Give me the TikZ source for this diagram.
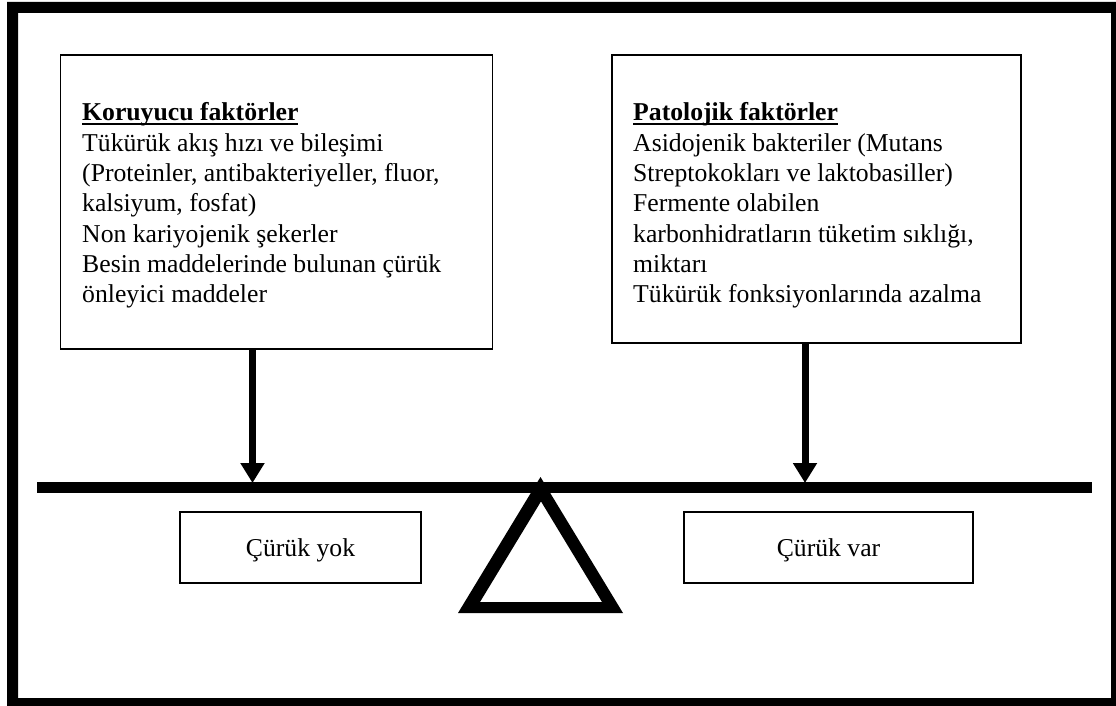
\documentclass[tikz,border=0pt]{standalone}
\usepackage{fontspec}
\setmainfont{Liberation Serif}
\usetikzlibrary{arrows.meta}
\newcommand\ulbf[1]{\leavevmode\setbox0\hbox{\textbf{#1}}\rlap{\rule[-3.8pt]{\wd0}{1.7pt}}\box0}
\tikzset{
  factorbox/.style={draw, line width=1.5pt, inner sep=0pt},
  resultbox/.style={draw, line width=1.5pt, inner sep=0pt, minimum width=241pt, minimum height=71pt,
    text height=17pt, text depth=0pt, font=\fontsize{25.7}{30}\selectfont},
  factortext/.style={anchor=base west, inner sep=0pt},
  pusharrow/.style={line width=7pt, -{Triangle[length=20pt, width=23pt]}},
}
\begin{document}
\begin{tikzpicture}[x=1pt, y=-1pt]
\useasboundingbox (0,0) rectangle (1116,706);
% outer frame
\fill[black, even odd rule] (7,2) rectangle (1130,720) (18,13) rectangle (1111,698);
% factor boxes
\node[factorbox, minimum width=432pt, minimum height=294pt] (lbox) at (276.5,202) {};
\node[factorbox, minimum width=409pt, minimum height=288pt] (rbox) at (816.5,199) {};
\node[factortext] (ltext) at (82,121) {\parbox[t]{405pt}{\raggedright\fontsize{25.7}{30.3}\selectfont
\ulbf{Koruyucu faktörler}\\
Tükürük akış hızı ve bileşimi\\
(Proteinler, antibakteriyeller, fluor,\\
kalsiyum, fosfat)\\
Non kariyojenik şekerler\\
Besin maddelerinde bulunan çürük\\
önleyici maddeler}};
\node[factortext] (rtext) at (633,121) {\parbox[t]{385pt}{\raggedright\fontsize{25.7}{30.3}\selectfont
\ulbf{Patolojik faktörler}\\
Asidojenik bakteriler (Mutans\\
Streptokokları ve laktobasiller)\\
Fermente olabilen\\
karbonhidratların tüketim sıklığı,\\
miktarı\\
Tükürük fonksiyonlarında azalma}};
% balance bar
\fill[black] (37,482) rectangle (1092,493);
\coordinate (lhit) at (252.5,483);
\coordinate (rhit) at (805,483);
\draw[pusharrow] (lhit |- lbox.south) -- (lhit);
\draw[pusharrow] (rhit |- rbox.south) -- (rhit);
% fulcrum
\fill[black, even odd rule] (458,613) -- (623,613) -- (540.5,477) -- cycle
  (480,602) -- (602,602) -- (541,501.4) -- cycle;
% result boxes
\node[resultbox] (yok) at (300.5,547.5) {Çürük yok};
\node[resultbox, minimum width=289pt] (var) at (828.5,547.5) {Çürük var};
\end{tikzpicture}
\end{document}
